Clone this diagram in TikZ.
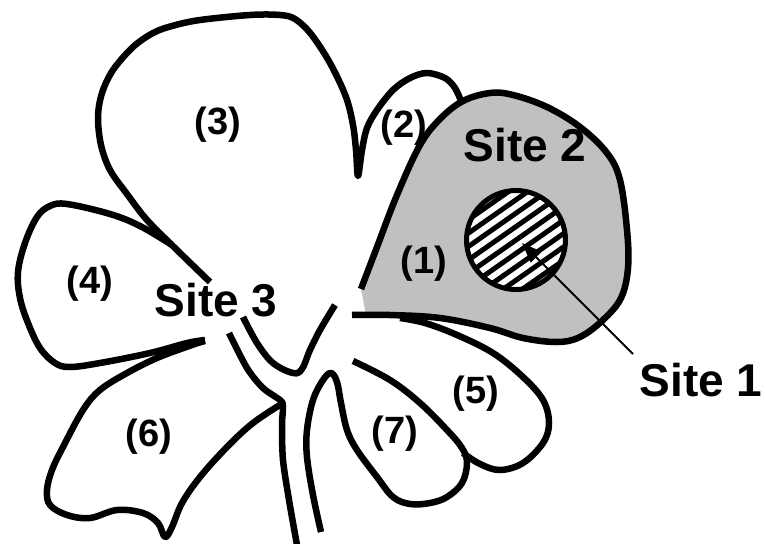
\documentclass[tikz,border=0pt]{standalone}
\usepackage{fontspec}
\setmainfont{Liberation Sans}
\usetikzlibrary{arrows.meta}
\definecolor{lobegray}{RGB}{192,192,192}
\begin{document}
\begin{tikzpicture}[x=1pt,y=-1pt,
  outline/.style={line width=6.5pt, line join=round},
  lbl/.style={font=\fontsize{38}{40}\selectfont\bfseries, inner sep=0pt},
  sitelbl/.style={font=\fontsize{46}{50}\selectfont\bfseries, inner sep=0pt},
  hatch/.style={line width=5pt},
  pointer/.style={line width=1.8pt, -{Triangle[length=20pt,width=15pt]}}
]
\useasboundingbox (0,0) rectangle (765,543);

% gray lobe (1) fill
\fill[lobegray] plot[smooth, tension=0.6] coordinates {(361,289) (377,247) (397,195) (420,145) (440,119) (463,101) (490,93) (513,95) (547,107) (580,127) (607,153) (620,180) (627,230) (628,268) (621,298) (603,320) (580,337) (557,342) (523,338) (490,328) (440,318) (390,315) (366,315)} -- cycle;
% gray lobe outline
\draw[outline] plot[smooth, tension=0.6] coordinates {(361,289) (377,247) (397,195) (420,145) (440,119) (463,101) (490,93) (513,95) (547,107) (580,127) (607,153) (620,180) (627,230) (628,268) (621,298) (603,320) (580,337) (557,342) (523,338) (490,328) (440,318) (390,315) (352,315)};

% lobes (3) and (2)
\draw[outline] plot[smooth, tension=0.55] coordinates {(210,282) (178,251) (147,220) (127,194) (110,170) (101,145) (98,117) (102,93) (113,70) (133,47) (153,33) (172,26) (200,20) (250,15) (280,15) (295,19) (311,34) (330,63) (346,97) (353,125) (356,150) (358,176) (362,150) (367,128) (377,110) (393,90) (410,78) (427,73) (445,78) (455,88) (461,101)};

% lobe (4)
\draw[outline] plot[smooth, tension=0.6] coordinates {(205,340) (187,343) (150,353) (100,363) (70,367) (55,363) (40,348) (28,323) (20,298) (18,272) (25,243) (37,217) (50,206) (67,204) (110,214) (140,226) (172,245)};

% lobe (6)
\draw[outline] plot[smooth, tension=0.6] coordinates {(283,403) (253,423) (227,447) (200,477) (182,503) (172,527) (165,537) (158,523) (143,513) (117,510) (90,518) (67,515) (50,505) (47,490) (52,470) (63,447) (83,410) (100,390) (127,373) (157,358) (192,345) (205,341)};

% trachea left wall
\draw[outline] plot[smooth, tension=0.5] coordinates {(229,333) (247,368) (263,388) (280,400) (283,406) (282,425) (283,460) (289,500) (297,545)};

% trachea right wall and lobe (7)
\draw[outline] plot[smooth, tension=0.6] coordinates {(321,532) (313,495) (307,457) (307,430) (313,400) (323,380) (331,373) (337,382) (341,403) (347,430) (357,450) (377,477) (393,497) (410,504) (430,503) (447,497) (462,483) (467,463) (462,448) (447,430) (420,403) (390,380) (353,361)};

% lobe (5)
\draw[outline] plot[smooth, tension=0.6] coordinates {(400,318) (425,323) (457,335) (493,353) (523,377) (543,400) (549,423) (543,443) (523,463) (500,470) (480,464) (463,453)};

% upper bronchus
\draw[outline] plot[smooth, tension=0.6] coordinates {(243,317) (257,343) (273,363) (293,373) (302,369) (310,350) (320,330) (335,305)};

% site 1 hatched circle
\coordinate (c1) at (516,240);
\begin{scope}
  \clip (c1) circle (49.5);
  \fill[white] (c1) circle (49.5);
  \foreach \k in {-7,...,7} {
    \draw[hatch] ({516+\k*6.3-80},{240+\k*9.0+56}) -- ({516+\k*6.3+80},{240+\k*9.0-56});
  }
\end{scope}
\draw[line width=5pt] (c1) circle (49.5);

% labels
\node[lbl] (l3) at (218,125) {(3)};
\node[lbl] (l2) at (404,128) {(2)};
\node[lbl] (l1) at (424,264) {(1)};
\node[lbl] (l4) at (90,284) {(4)};
\node[lbl] (l6) at (149,437) {(6)};
\node[lbl] (l7) at (395,434) {(7)};
\node[lbl] (l5) at (476,394) {(5)};
\node[sitelbl] (s2) at (525,145) {Site 2};
\node[sitelbl] (s3) at (216,300) {Site 3};
\node[sitelbl] (s1) at (701,380) {Site 1};

% pointer
\coordinate (ptail) at (633,354);
\coordinate (ptip) at (522,243);
\draw[pointer] (ptail) -- (ptip);
\end{tikzpicture}
\end{document}
